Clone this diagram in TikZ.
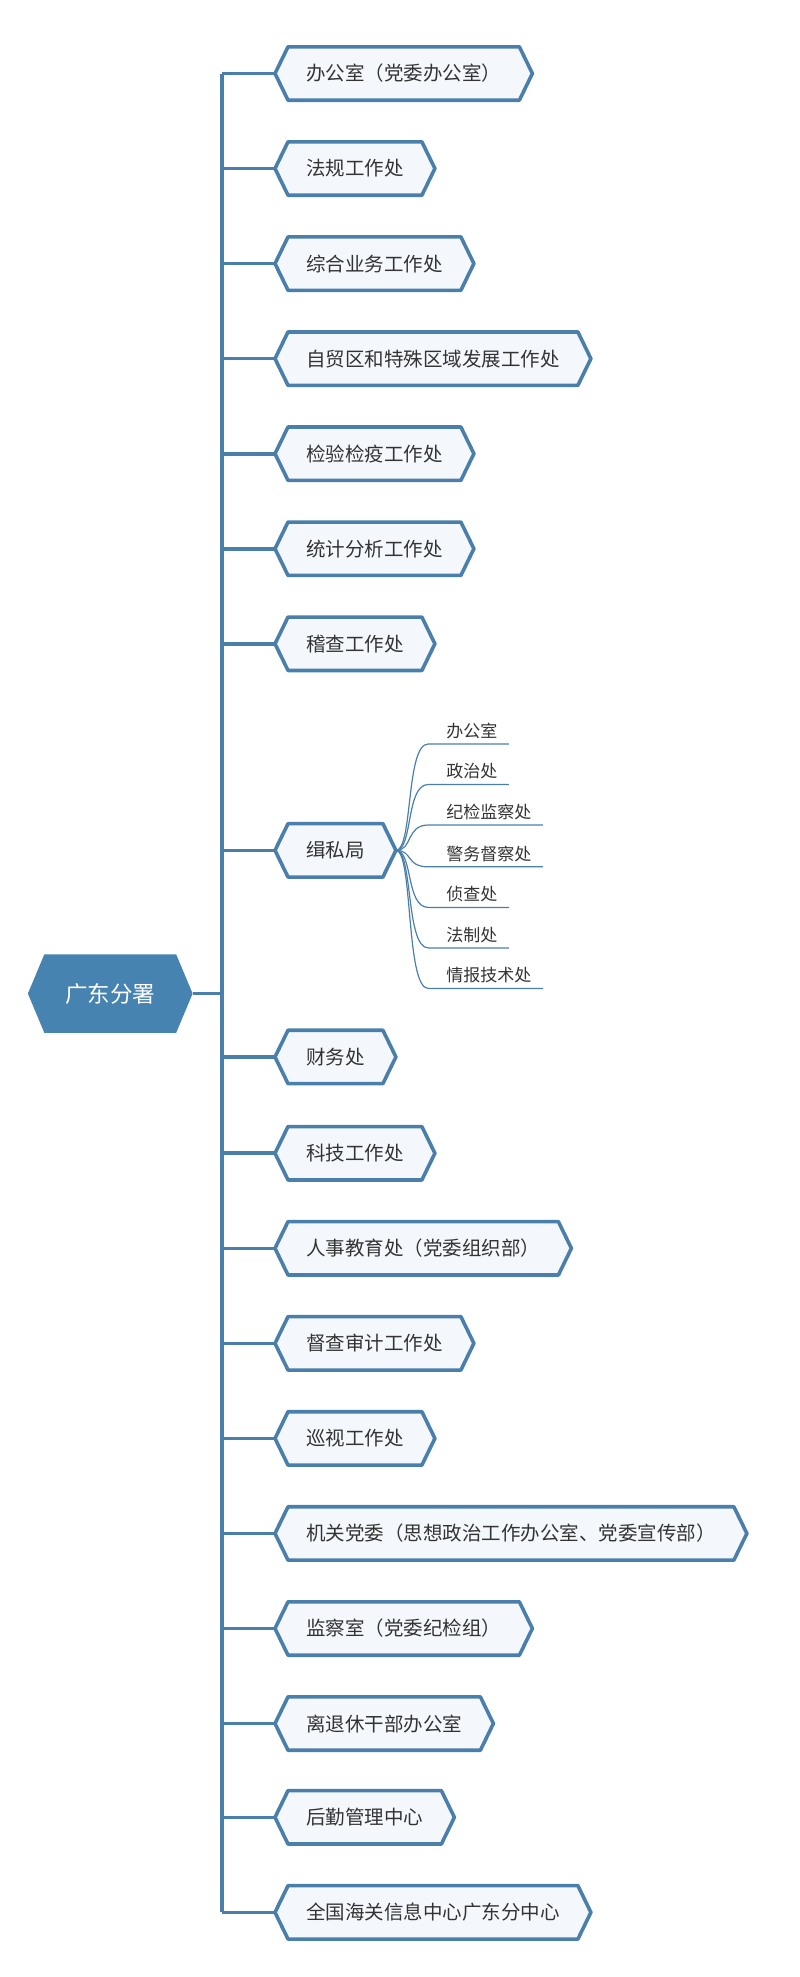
\documentclass[tikz,border=0pt]{standalone}
\usepackage{fontspec}
\newfontfamily\cjk{Noto Sans CJK SC}
\definecolor{ln}{HTML}{4A7FAB}
\definecolor{rootf}{HTML}{4683B1}
\definecolor{boxf}{HTML}{F4F8FD}
\definecolor{tx}{HTML}{333333}
\begin{document}
\begin{tikzpicture}[x=1.2674pt,y=-1.2674pt,
  box/.style={anchor=west,inner xsep=31pt,inner ysep=0pt,minimum height=53pt,font=\cjk\fontsize{19.5}{20}\selectfont,text=tx},
  sub/.style={anchor=south west,inner sep=0pt,yshift=5pt,font=\cjk\fontsize{17}{18}\selectfont,text=tx},
  hexl/.style={draw=ln,line width=3.6pt,line join=round},
  conn/.style={draw=ln,line width=3.6pt},
  subl/.style={draw=ln,line width=1.2pt}]
\useasboundingbox (0,0) rectangle (631.2,1560);
% root
\node (root) [anchor=center,minimum width=165pt,minimum height=79pt,inner sep=0pt,font=\cjk\fontsize{22.5}{24}\selectfont,text=white] at (87,784) {};
\fill[rootf] (22,784) -- (35,753) -- (139,753) -- (152,784) -- (139,815) -- (35,815) -- cycle;
\node[font=\cjk\fontsize{22.5}{24}\selectfont,text=white] at (87,784) {广东分署};
\coordinate (troot) at (175,784);
\draw[conn] (root.east) -- (troot);
\draw[conn] (175,58) -- (175,1509);
\foreach \n/\y/\t in {a/58/办公室（党委办公室）,b/133/法规工作处,c/208/综合业务工作处,d/283/自贸区和特殊区域发展工作处,e/358/检验检疫工作处,f/433/统计分析工作处,g/508/稽查工作处,jsj/671/缉私局,h/834/财务处,i/910/科技工作处,j/985/人事教育处（党委组织部）,k/1060/督查审计工作处,l/1135/巡视工作处,m/1210/机关党委（思想政治工作办公室、党委宣传部）,n/1285/监察室（党委纪检组）,o/1360/离退休干部办公室,p/1434/后勤管理中心,q/1509/全国海关信息中心广东分中心}{
  \node (\n) [box] at (217,\y) {\t};
  \coordinate (t\n) at (175,\y);
  \draw[conn] (t\n) -- (\n.west);
  \filldraw[hexl,fill=boxf] (\n.west) -- ([xshift=13pt]\n.north west) -- ([xshift=-13pt]\n.north east) -- (\n.east) -- ([xshift=-13pt]\n.south east) -- ([xshift=13pt]\n.south west) -- cycle;
  \node[box] at (217,\y) {\t};
}
\foreach \s/\y/\t in {s1/587/办公室,s2/619/政治处,s3/651/纪检监察处,s4/684/警务督察处,s5/716/侦查处,s6/748/法制处,s7/780/情报技术处}{
  \node (\s) [sub] at (352,\y) {\t};
  \draw[subl] (jsj.east) .. controls (326,671) and (320,\y) .. (338,\y) -- ([xshift=11.4pt,yshift=-5pt]\s.south east);
}
\end{tikzpicture}
\end{document}
